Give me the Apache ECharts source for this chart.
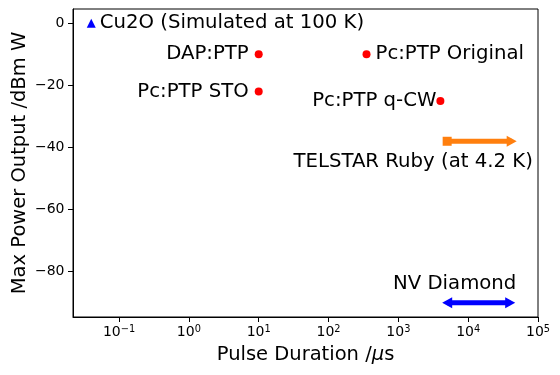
<!DOCTYPE html>
<html>
<head>
<meta charset="utf-8">
<script src="https://cdn.jsdelivr.net/npm/echarts@6/dist/echarts.min.js"></script>
<style>
  html, body { margin: 0; padding: 0; background: #fff; }
  #chart { width: 560px; height: 375px; }
</style>
</head>
<body>
<div id="chart"></div>
<script>
// values
const pointNames = ['DAP:PTP', 'Pc:PTP STO', 'Pc:PTP Original', 'Pc:PTP q-CW']
const pointX = [10, 10, 350, 4000]
const pointY = [-10, -22, -10, -25]

const cu2oName = 'Cu2O (Simulated at 100 K)'
const cu2oX = [0.04]
const cu2oY = [0]

const rubyName = 'TELSTAR Ruby (at 4.2 K)'
const rubyX = [5000, 42000]
const rubyY = [-38, -38]

const nvName = 'NV Diamond'
const nvX = [5000, 40000]
const nvY = [-90, -90]

const xTicks = [0.1, 1, 10, 100, 1000, 10000, 100000]
const yTicks = [-80, -60, -40, -20, 0]

const FONT = 'DejaVu Sans'

// label side for each red point
const labelSide = {
  'DAP:PTP': { position: 'left', distance: 6 },
  'Pc:PTP STO': { position: 'left', distance: 6 },
  'Pc:PTP Original': { position: 'right', distance: 5 },
  'Pc:PTP q-CW': { position: 'left', distance: 0 },
}

const chart = echarts.init(document.getElementById('chart'))

const textStyle = { fontFamily: FONT, fontSize: 19.7, color: '#000' }

chart.setOption({
  animation: false,
  grid: {
    left: 73, right: 22, top: 9, bottom: 58,
    outerBoundsMode: 'none',
    show: true, borderColor: '#000', borderWidth: 1,
  },
  xAxis: {
    type: 'log',
    logBase: 10,
    min: 0.0219,
    max: 100000,
    name: '{a|Pulse Duration /}{m|μ}{a|s}',
    nameLocation: 'middle',
    nameGap: 28,
    nameMoveOverlap: false,
    nameTextStyle: {
      rich: {
        a: { fontFamily: FONT, fontSize: 19.5, color: '#000' },
        m: { fontFamily: FONT, fontSize: 19.5, color: '#000', fontStyle: 'italic' },
      },
    },
    axisLine: { show: true, onZero: false, lineStyle: { color: '#000', width: 1 } },
    axisTick: { show: true, length: 5, customValues: xTicks, lineStyle: { color: '#000' } },
    axisLabel: {
      customValues: xTicks,
      margin: 7,
      formatter: (v) => {
        const e = Math.round(Math.log10(v))
        return '{b|10}{s|' + String(e).replace('-', '−') + '}'
      },
      rich: {
        b: { fontFamily: FONT, fontSize: 14, color: '#000', lineHeight: 16 },
        s: { fontFamily: FONT, fontSize: 9.8, color: '#000', lineHeight: 4, verticalAlign: 'top' },
      },
    },
    splitLine: { show: false },
  },
  yAxis: {
    type: 'value',
    min: -94.6,
    max: 4.6,
    name: 'Max Power Output /dBm W',
    nameLocation: 'middle',
    nameGap: 43,
    nameMoveOverlap: false,
    nameTextStyle: { fontFamily: FONT, fontSize: 19.5, color: '#000' },
    axisLine: { show: true, onZero: false, lineStyle: { color: '#000', width: 1 } },
    axisTick: { show: true, length: 5, customValues: yTicks, lineStyle: { color: '#000' } },
    axisLabel: {
      customValues: yTicks,
      margin: 8.5,
      fontFamily: FONT,
      fontSize: 14,
      color: '#000',
      formatter: (v) => String(v).replace('-', '−'),
    },
    splitLine: { show: false },
  },
  series: [
    {
      type: 'scatter',
      name: 'points',
      symbol: 'circle',
      symbolSize: 8,
      itemStyle: { color: '#ff0000', opacity: 1 },
      data: pointNames.map((n, i) => ({
        name: n,
        value: [pointX[i], pointY[i]],
        label: Object.assign({ show: true, formatter: '{b}' }, textStyle, labelSide[n]),
      })),
    },
    {
      type: 'scatter',
      name: 'cu2o',
      symbol: 'triangle',
      symbolSize: 9,
      itemStyle: { color: '#0000ff', opacity: 1 },
      data: cu2oX.map((x, i) => ({
        name: cu2oName,
        value: [x, cu2oY[i]],
        label: Object.assign({ show: true, formatter: '{b}', position: 'right', distance: 4 }, textStyle),
      })),
    },
    {
      type: 'line',
      name: 'ruby',
      showAllSymbol: true,
      lineStyle: { color: '#ff7f0e', width: 5 },
      itemStyle: { color: '#ff7f0e', opacity: 1 },
      data: rubyX.map((x, i) => i === 0
        ? {
            value: [x, rubyY[i]], symbol: 'rect', symbolSize: 9,
            label: Object.assign({ show: true, formatter: rubyName, position: 'inside', offset: [-34, 21] }, textStyle),
          }
        : { value: [x, rubyY[i]], symbol: 'triangle', symbolSize: [11, 10], symbolRotate: -90 }),
    },
    {
      type: 'line',
      name: 'nv',
      showAllSymbol: true,
      lineStyle: { color: '#0000ff', width: 5 },
      itemStyle: { color: '#0000ff', opacity: 1 },
      data: nvX.map((x, i) => i === 0
        ? {
            value: [x, nvY[i]], symbol: 'triangle', symbolSize: [11, 10], symbolRotate: 90,
            label: Object.assign({ show: true, formatter: nvName, position: 'inside', offset: [7.5, -19] }, textStyle),
          }
        : { value: [x, nvY[i]], symbol: 'triangle', symbolSize: [11, 10], symbolRotate: -90 }),
    },
  ],
})
</script>
</body>
</html>
